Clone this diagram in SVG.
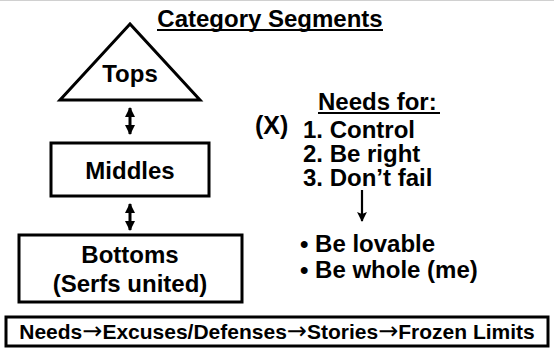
<svg xmlns="http://www.w3.org/2000/svg" width="554" height="350" viewBox="0 0 554 350">
<defs>
<style>
text{font-family:"Liberation Sans",Arial,sans-serif;font-weight:bold;fill:#000}
.t24{font-size:24px}
.shape{fill:#fff;stroke:#000;stroke-width:3}
.conn{stroke:#000;stroke-width:3;fill:none}
.ul{stroke:#000;stroke-width:2}
.arr{font-family:"DejaVu Sans",sans-serif;font-weight:normal;font-size:24px}
</style>
<marker id="ah" viewBox="0 0 10 10" refX="9" refY="5" markerWidth="3.4" markerHeight="3.4" orient="auto-start-reverse" markerUnits="strokeWidth">
<path d="M0,0 L10,5 L0,10 z" fill="#000"/>
</marker>
<marker id="ah2" viewBox="0 0 10 10" refX="9" refY="5" markerWidth="5" markerHeight="4.5" orient="auto" markerUnits="strokeWidth">
<path d="M0,0 L10,5 L0,10 L2,5 z" fill="#000"/>
</marker>
</defs>
<rect width="554" height="350" fill="#fff"/>
<line x1="0" y1="0.5" x2="554" y2="0.5" stroke="#d0d0d0" stroke-width="1"/>
<g id="title">
<text class="t24" x="270" y="27" text-anchor="middle">Category Segments</text>
<line class="ul" x1="157" y1="30" x2="383" y2="30"/>
</g>
<g id="tops">
<polygon class="shape" points="130,24 60,100 200,100"/>
<text class="t24" x="130" y="82" text-anchor="middle">Tops</text>
</g>
<g id="middles">
<rect class="shape" x="51" y="143" width="158" height="53"/>
<text class="t24" x="130" y="179" text-anchor="middle">Middles</text>
</g>
<g id="bottoms">
<rect class="shape" x="19" y="235" width="223" height="67"/>
<text class="t24" x="130" y="263" text-anchor="middle">Bottoms</text>
<text class="t24" x="130" y="292" text-anchor="middle">(Serfs united)</text>
</g>
<g id="x-label">
<text x="255" y="134" font-size="25">(X)</text>
</g>
<g id="needs">
<text class="t24" x="318" y="110">Needs for:</text>
<line class="ul" x1="318" y1="113" x2="440" y2="113"/>
<text class="t24" x="303" y="138">1. Control</text>
<text class="t24" x="303" y="162">2. Be right</text>
<text class="t24" x="303" y="186">3. Don’t fail</text>
<text class="t24" x="300" y="252">•  Be lovable</text>
<text class="t24" x="300" y="278">•  Be whole (me)</text>
</g>
<g id="chain">
<rect x="6" y="317" width="542" height="29" fill="#fff" stroke="#000" stroke-width="3"/>
<text x="277" y="339" font-size="21" text-anchor="middle">Needs<tspan class="arr">→</tspan>Excuses/Defenses<tspan class="arr">→</tspan>Stories<tspan class="arr">→</tspan>Frozen Limits</text>
</g>
<g id="connectors">
<line class="conn" x1="130" y1="108" x2="130" y2="134" marker-start="url(#ah)" marker-end="url(#ah)"/>
<line class="conn" x1="130" y1="204" x2="130" y2="230" marker-start="url(#ah)" marker-end="url(#ah)"/>
<line stroke="#000" stroke-width="2.2" x1="362" y1="190" x2="362" y2="221" marker-end="url(#ah2)"/>
</g>
</svg>
